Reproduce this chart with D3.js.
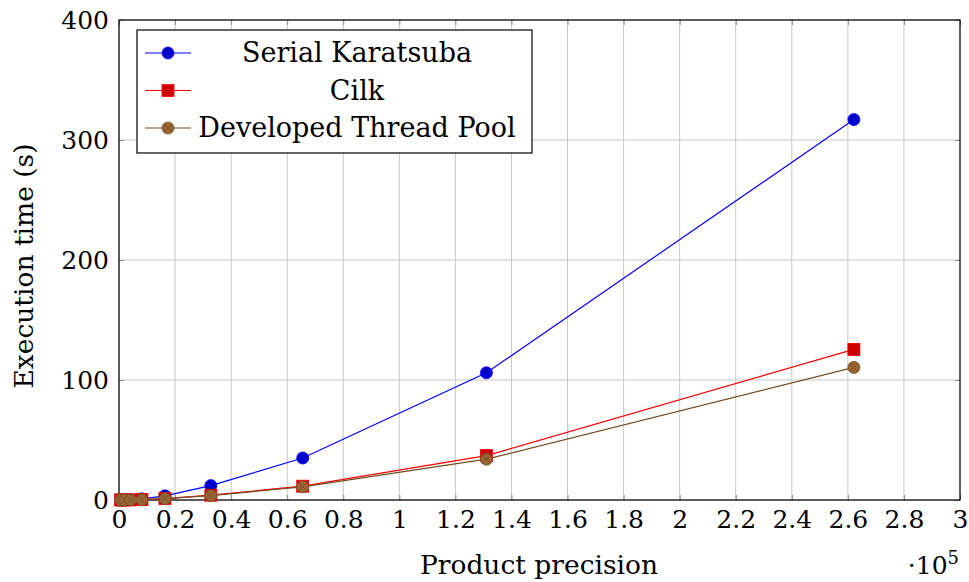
<!DOCTYPE html>
<html>
<head>
<meta charset="utf-8">
<script src="https://cdn.jsdelivr.net/npm/d3@7"></script>
<style>
  body { margin: 0; background: #fff; }
</style>
</head>
<body>
<svg id="chart" width="969" height="582"></svg>
<script>
// product precision (digits), execution times in seconds
const precision = [512, 1024, 2048, 4096, 8192, 16384, 32768, 65536, 131072, 262144];
const serialKaratsuba = [0.01, 0.03, 0.1, 0.3, 1, 3.5, 12, 35, 106, 317];
const cilk = [0.01, 0.02, 0.05, 0.1, 0.35, 1.2, 4, 11.5, 37, 125.5];
const threadPool = [0.01, 0.02, 0.05, 0.1, 0.3, 1.1, 3.6, 11, 34, 110.5];

const xTicks = d3.range(0, 3.01, 0.2);
const yTicks = [0, 100, 200, 300, 400];

const FONT = "'DejaVu Serif', serif";

const series = [
  { name: "Serial Karatsuba", values: serialKaratsuba, line: "#0000ff", fill: "#0000cc", stroke: "#0000ff", mark: "circle" },
  { name: "Cilk", values: cilk, line: "#ff0000", fill: "#cc0000", stroke: "#ff0000", mark: "square" },
  { name: "Developed Thread Pool", values: threadPool, line: "#734d26", fill: "#996633", stroke: "#734d26", mark: "otimes" }
];

const svg = d3.select("#chart");
const margin = { left: 119, right: 9, top: 20, bottom: 82 };
const width = 969 - margin.left - margin.right;
const height = 582 - margin.top - margin.bottom;

const x = d3.scaleLinear().domain([0, 3]).range([0, width]);
const y = d3.scaleLinear().domain([0, 400]).range([height, 0]);

const g = svg.append("g").attr("transform", `translate(${margin.left},${margin.top})`);

// grid
g.append("g").selectAll("line").data(xTicks).join("line")
  .attr("x1", d => x(d)).attr("x2", d => x(d))
  .attr("y1", 0).attr("y2", height)
  .attr("stroke", "#c8c8c8").attr("stroke-width", 1);
g.append("g").selectAll("line").data(yTicks).join("line")
  .attr("x1", 0).attr("x2", width)
  .attr("y1", d => y(d)).attr("y2", d => y(d))
  .attr("stroke", "#c8c8c8").attr("stroke-width", 1);

// axes (ticks pointing inwards, mirrored)
const fmtX = d => d3.format("~g")(+d.toFixed(1));
const xAxis = g.append("g").attr("transform", `translate(0,${height})`)
  .call(d3.axisBottom(x).tickValues(xTicks).tickSize(-5).tickPadding(10).tickFormat(fmtX));
const xAxisTop = g.append("g")
  .call(d3.axisTop(x).tickValues(xTicks).tickSize(-5).tickFormat(""));
const yAxis = g.append("g")
  .call(d3.axisLeft(y).tickValues(yTicks).tickSize(-5).tickPadding(10));
const yAxisRight = g.append("g").attr("transform", `translate(${width},0)`)
  .call(d3.axisRight(y).tickValues(yTicks).tickSize(-5).tickFormat(""));

[xAxis, xAxisTop, yAxis, yAxisRight].forEach(a => {
  a.attr("font-family", null).attr("font-size", null);
  a.select(".domain").remove();
  a.selectAll(".tick line").attr("stroke", "#888").attr("stroke-width", 1);
});
xAxis.selectAll("text").attr("font-family", FONT).attr("font-size", 25).attr("dy", "0.71em");
yAxis.selectAll("text").attr("font-family", FONT).attr("font-size", 25);

g.append("rect").attr("width", width).attr("height", height)
  .attr("fill", "none").attr("stroke", "#000").attr("stroke-width", 1.2);

// lines
const line = d3.line().x(d => x(d[0] / 1e5)).y(d => y(d[1]));

function drawMark(sel, s) {
  if (s.mark === "circle") {
    sel.append("circle").attr("r", 6).attr("fill", s.fill).attr("stroke", s.stroke).attr("stroke-width", 0.8);
  } else if (s.mark === "square") {
    sel.append("rect").attr("x", -6).attr("y", -6).attr("width", 12).attr("height", 12)
      .attr("fill", s.fill).attr("stroke", s.stroke).attr("stroke-width", 0.8);
  } else {
    sel.append("circle").attr("r", 6).attr("fill", s.fill).attr("stroke", s.stroke).attr("stroke-width", 0.8);
    const k = 6 * Math.SQRT1_2;
    sel.append("path").attr("d", `M${-k},${-k}L${k},${k}M${-k},${k}L${k},${-k}`)
      .attr("stroke", s.stroke).attr("stroke-width", 0.8);
  }
}

series.forEach(s => {
  const pts = precision.map((p, i) => [p, s.values[i]]);
  g.append("path").datum(pts)
    .attr("d", line).attr("fill", "none").attr("stroke", s.line).attr("stroke-width", 1.2);
  g.append("g").selectAll("g").data(pts).join("g")
    .attr("transform", d => `translate(${x(d[0] / 1e5)},${y(d[1])})`)
    .each(function () { drawMark(d3.select(this), s); });
});

// legend
const legend = svg.append("g").attr("transform", "translate(137,30)");
legend.append("rect").attr("width", 395).attr("height", 123)
  .attr("fill", "#fff").attr("stroke", "#000").attr("stroke-width", 1.2);
series.forEach((s, i) => {
  const row = legend.append("g").attr("transform", `translate(0,${23 + i * 37.5})`);
  row.append("line").attr("x1", 8).attr("x2", 54).attr("stroke", s.line).attr("stroke-width", 1.2);
  drawMark(row.append("g").attr("transform", "translate(31,0)"), s);
  row.append("text").attr("x", 220).attr("dy", "0.35em")
    .attr("text-anchor", "middle").attr("font-family", FONT).attr("font-size", 27).text(s.name);
});

// axis labels
svg.append("text").attr("x", 539).attr("y", 574).attr("text-anchor", "middle")
  .attr("font-family", FONT).attr("font-size", 26.5).text("Product precision");
const sci = svg.append("text").attr("x", 959).attr("y", 574).attr("text-anchor", "end")
  .attr("font-family", FONT).attr("font-size", 25);
sci.append("tspan").text("·10");
sci.append("tspan").attr("dy", "-10").attr("font-size", 18).text("5");
svg.append("text")
  .attr("transform", "translate(33,266) rotate(-90)")
  .attr("text-anchor", "middle").attr("font-family", FONT).attr("font-size", 26.5).text("Execution time (s)");
</script>
</body>
</html>
